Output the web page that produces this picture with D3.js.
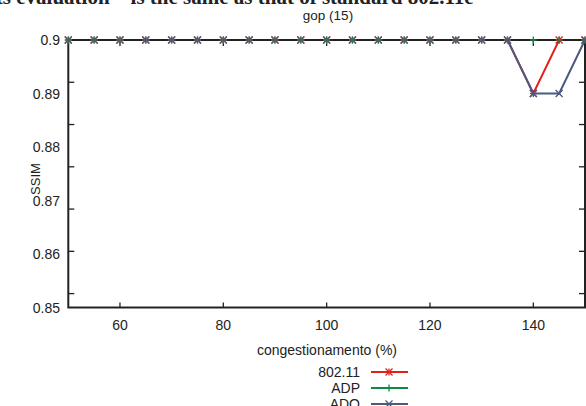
<!DOCTYPE html>
<html lang="en">
<head>
  <meta charset="UTF-8">
  <title></title>
  <style>
    html, body {
      margin: 0;
      background: #fff;
      overflow: hidden;
      width: 100%;
      height: 100%;
    }
    svg {
      position: absolute;
      top: 0;
      left: 0;
      font-family: "Liberation Sans", Arial, sans-serif;
    }
  </style>
</head>
<body>
  <svg width="586" height="406"></svg>
</body>
<script src="https://cdn.jsdelivr.net/npm/d3@7"></script>
<script type="text/javascript">
  // congestion levels (%) on the x axis
  const congestion = [50, 55, 60, 65, 70, 75, 80, 85, 90, 95, 100, 105, 110, 115, 120, 125, 130, 135, 140, 145, 150]

  const ssim80211 = [0.9, 0.9, 0.9, 0.9, 0.9, 0.9, 0.9, 0.9, 0.9, 0.9, 0.9, 0.9, 0.9, 0.9, 0.9, 0.9, 0.9, 0.9, 0.89, 0.9, 0.9]
  const ssimADP = [0.9, 0.9, 0.9, 0.9, 0.9, 0.9, 0.9, 0.9, 0.9, 0.9, 0.9, 0.9, 0.9, 0.9, 0.9, 0.9, 0.9, 0.9, 0.9, 0.9, 0.9]
  const ssimADO = [0.9, 0.9, 0.9, 0.9, 0.9, 0.9, 0.9, 0.9, 0.9, 0.9, 0.9, 0.9, 0.9, 0.9, 0.9, 0.9, 0.9, 0.9, 0.89, 0.89, 0.9]

  const seriesNames = ['802.11', 'ADP', 'ADO']

  const xTicks = [60, 80, 100, 120, 140]
  const yLabels = [0.85, 0.86, 0.87, 0.88, 0.89, 0.9]
  // tick marks on the y borders do not line up with the labels in the source
  const yMarks = [0.8921, 0.8842, 0.8763, 0.8684, 0.8605, 0.8526]

  const svg = d3.select('svg')

  const x = d3.scaleLinear().domain([50, 150]).range([68.3, 585])
  const y = d3.scaleLinear().domain([0.85, 0.9]).range([307.5, 40])

  const styles = [
    {color: '#e3201b', marker: 'star'},
    {color: '#0c8a45', marker: 'plus'},
    {color: '#4b5a83', marker: 'cross'}
  ]
  const values = [ssim80211, ssimADP, ssimADO]

  // cut-off line of the surrounding document text
  svg.append('text')
    .attr('x', -10)
    .attr('y', 4)
    .attr('font-family', '"Liberation Serif", serif')
    .attr('font-weight', 'bold')
    .attr('font-size', 21)
    .attr('fill', '#222')
    .text('its evaluation \u2013 is the same as that of standard 802.11e')

  svg.append('text')
    .attr('x', 328)
    .attr('y', 20)
    .attr('text-anchor', 'middle')
    .attr('font-size', 13.5)
    .attr('fill', '#222')
    .text('gop (15)')

  // lines
  const line = d3.line()
    .x((d, i) => x(congestion[i]))
    .y(d => y(d))

  values.forEach((v, k) => {
    svg.append('path')
      .datum(v)
      .attr('d', line)
      .attr('fill', 'none')
      .attr('stroke', styles[k].color)
      .attr('stroke-width', 2)
  })

  // frame
  const frame = svg.append('g')
    .attr('stroke', '#222')
    .attr('stroke-width', 2)
  frame.append('rect')
    .attr('x', x(50))
    .attr('y', y(0.9))
    .attr('width', x(150) - x(50))
    .attr('height', y(0.85) - y(0.9))
    .attr('fill', 'none')

  frame.selectAll('line.bt')
    .data(xTicks)
    .enter()
    .append('line')
    .attr('x1', d => x(d)).attr('x2', d => x(d))
    .attr('y1', y(0.85)).attr('y2', y(0.85) - 5)
    .attr('stroke-width', 1.3)
  frame.selectAll('line.tt')
    .data(xTicks)
    .enter()
    .append('line')
    .attr('x1', d => x(d)).attr('x2', d => x(d))
    .attr('y1', y(0.9)).attr('y2', y(0.9) + 6)
    .attr('stroke-width', 1.3)
  frame.selectAll('line.lt')
    .data(yMarks)
    .enter()
    .append('line')
    .attr('x1', x(50)).attr('x2', x(50) + 6)
    .attr('y1', d => y(d)).attr('y2', d => y(d))
    .attr('stroke-width', 1.3)
  frame.selectAll('line.rt')
    .data(yMarks)
    .enter()
    .append('line')
    .attr('x1', x(150) - 6).attr('x2', x(150))
    .attr('y1', d => y(d)).attr('y2', d => y(d))
    .attr('stroke-width', 1.3)

  // markers
  function marker(g, type, color) {
    const s = 3.5
    const p = []
    if (type === 'plus' || type === 'star') {
      p.push([-s, 0, s, 0], [0, -s, 0, s])
    }
    if (type === 'cross' || type === 'star') {
      p.push([-s, -s, s, s], [-s, s, s, -s])
    }
    p.forEach(q => {
      g.append('line')
        .attr('x1', q[0]).attr('y1', q[1])
        .attr('x2', q[2]).attr('y2', q[3])
        .attr('stroke', color)
        .attr('stroke-width', 1.3)
    })
  }

  values.forEach((v, k) => {
    v.forEach((d, i) => {
      const g = svg.append('g')
        .attr('transform', 'translate(' + x(congestion[i]) + ',' + y(d) + ')')
      marker(g, styles[k].marker, styles[k].color)
    })
  })

  // tick labels
  svg.selectAll('text.xl')
    .data(xTicks)
    .enter()
    .append('text')
    .attr('x', d => x(d))
    .attr('y', 330)
    .attr('text-anchor', 'middle')
    .attr('font-size', 14)
    .attr('fill', '#222')
    .text(d => d)

  svg.selectAll('text.yl')
    .data(yLabels)
    .enter()
    .append('text')
    .attr('x', 60)
    .attr('y', d => y(d) + 5)
    .attr('text-anchor', 'end')
    .attr('font-size', 14)
    .attr('fill', '#222')
    .text(d => d)

  svg.append('text')
    .attr('transform', 'translate(40,179) rotate(-90)')
    .attr('text-anchor', 'middle')
    .attr('font-size', 13)
    .attr('fill', '#222')
    .text('SSIM')

  svg.append('text')
    .attr('x', 327)
    .attr('y', 355)
    .attr('text-anchor', 'middle')
    .attr('font-size', 14)
    .attr('fill', '#222')
    .text('congestionamento (%)')

  // legend
  seriesNames.forEach((name, k) => {
    const ly = 372 + k * 16
    svg.append('text')
      .attr('x', 360)
      .attr('y', ly + 5)
      .attr('text-anchor', 'end')
      .attr('font-size', 14)
      .attr('fill', '#222')
      .text(name)
    svg.append('line')
      .attr('x1', 371).attr('x2', 408)
      .attr('y1', ly).attr('y2', ly)
      .attr('stroke', styles[k].color)
      .attr('stroke-width', 2)
    const g = svg.append('g').attr('transform', 'translate(389,' + ly + ')')
    marker(g, styles[k].marker, styles[k].color)
  })
</script>
</html>
